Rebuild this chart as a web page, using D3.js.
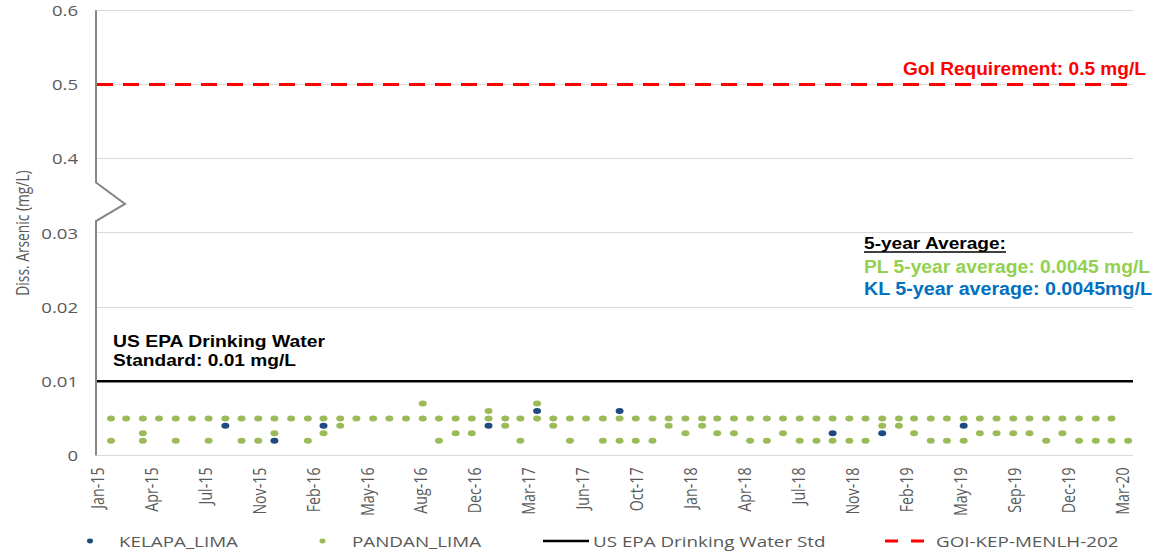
<!DOCTYPE html>
<html>
<head>
<meta charset="utf-8">
<script src="https://cdn.jsdelivr.net/npm/d3@7"></script>
<style>
  body { margin: 0; background: #fff; }
  svg { display: block; }
  .gray { font-family: 'Open Sans', sans-serif; fill: #595959; }
  .bold { font-family: 'Liberation Sans', Arial, sans-serif; font-weight: bold; }
</style>
</head>
<body>
<svg id="chart" width="1175" height="555"></svg>
<script>
// monthly sampling, one entry per month
const sampleMonths = [
  '2015-01','2015-02','2015-03','2015-04','2015-05','2015-06','2015-07','2015-08','2015-09','2015-10','2015-11','2015-12',
  '2016-01','2016-02','2016-03','2016-04','2016-05','2016-06','2016-07','2016-08','2016-09','2016-10','2016-11','2016-12',
  '2017-01','2017-02','2017-03','2017-04','2017-05','2017-06','2017-07','2017-08','2017-09','2017-10','2017-11','2017-12',
  '2018-01','2018-02','2018-03','2018-04','2018-05','2018-06','2018-07','2018-08','2018-09','2018-10','2018-11','2018-12',
  '2019-01','2019-02','2019-03','2019-04','2019-05','2019-06','2019-07','2019-08','2019-09','2019-10','2019-11','2019-12',
  '2020-01','2020-02','2020-03'
];

// PANDAN_LIMA readings per month (mg/L)
const pandanLima = [
  [0.005,0.002],[0.005],[0.005,0.003,0.002],[0.005],[0.005,0.002],[0.005],[0.005,0.002],[0.005],[0.005,0.002],[0.005,0.002],[0.005,0.003],[0.005],
  [0.005,0.002],[0.005,0.003],[0.005,0.004],[0.005],[0.005],[0.005],[0.005],[0.007,0.005],[0.005,0.002],[0.005,0.003],[0.005,0.003],[0.006,0.005],
  [0.005,0.004],[0.005,0.002],[0.007,0.005],[0.005,0.004],[0.005,0.002],[0.005],[0.005,0.002],[0.005,0.002],[0.005,0.002],[0.005,0.002],[0.005,0.004],[0.005,0.003],
  [0.005,0.004],[0.005,0.003],[0.005,0.003],[0.005,0.002],[0.005,0.002],[0.005,0.003],[0.005,0.002],[0.005,0.002],[0.005,0.002],[0.005,0.002],[0.005,0.002],[0.005,0.004],
  [0.005,0.004],[0.005,0.003],[0.005,0.002],[0.005,0.002],[0.005,0.002],[0.005,0.003],[0.005,0.003],[0.005,0.003],[0.005,0.003],[0.005,0.002],[0.005,0.003],[0.005,0.002],
  [0.005,0.002],[0.005,0.002],[0.002]
];

// KELAPA_LIMA readings that show (others sit under the green dots)
const kelapaMonths = ['2015-08','2015-11','2016-02','2016-12','2017-03','2017-08','2018-09','2018-12','2019-05'];
const kelapaValues = [0.004, 0.002, 0.004, 0.004, 0.006, 0.006, 0.003, 0.003, 0.004];

const yTicks = [0, 0.01, 0.02, 0.03, 0.4, 0.5, 0.6];
const yTickLabels = ['0', '0.01', '0.02', '0.03', '0.4', '0.5', '0.6'];
const xTickLabels = ['Jan-15','Apr-15','Jul-15','Nov-15','Feb-16','May-16','Aug-16','Dec-16','Mar-17','Jun-17',
  'Oct-17','Jan-18','Apr-18','Jul-18','Nov-18','Feb-19','May-19','Sep-19','Dec-19','Mar-20'];

const epaStd = 0.01;
const goiReq = 0.5;

const legendNames = ['KELAPA_LIMA', 'PANDAN_LIMA', 'US EPA Drinking Water Std', 'GOI-KEP-MENLH-202'];

const green = '#9bbb59', blue = '#1f4a80';
const SX = 1.28; // the source picture is stretched sideways

const svg = d3.select('#chart');
const left = 97, right = 1133, bottom = 455.5, step = 74.2;

const axisStart = new Date(2015, 0, 5);
const x = d3.scaleTime()
  .domain([axisStart, new Date(2020, 3, 9)])
  .range([left, right]);

const y = d3.scaleLinear()
  .domain([0, 0.03, 0.4, 0.6])
  .range([bottom, bottom - 3 * step, bottom - 4 * step, bottom - 6 * step]);

const parseMonth = d3.timeParse('%Y-%m');
const monthEnd = m => d3.timeDay.offset(d3.timeMonth.offset(parseMonth(m), 1), -1);
const crisp = v => Math.floor(v) + 0.5;

// grid
svg.append('g')
  .selectAll('line')
  .data(yTicks)
  .join('line')
  .attr('x1', left).attr('x2', right)
  .attr('y1', d => crisp(y(d))).attr('y2', d => crisp(y(d)))
  .attr('stroke', '#d9d9d9')
  .attr('stroke-width', 1);

// y axis labels
const yAxis = svg.append('g')
  .attr('transform', `translate(${left},0)`)
  .call(d3.axisLeft(y).tickValues(yTicks).tickFormat((d, i) => yTickLabels[i]).tickSize(0));
yAxis.select('.domain').remove();
yAxis.selectAll('text')
  .attr('class', 'gray')
  .attr('x', null)
  .attr('dy', '0.36em')
  .attr('font-size', 14.5)
  .attr('transform', `translate(-19,0) scale(${SX},1)`);

// y axis line with break
const b = t => y(0.4) + t * (y(0.03) - y(0.4));
svg.append('path')
  .attr('d', d3.line()([[96, y(0.6)], [96, b(0.32)], [125, b(0.61)], [96, b(0.84)], [96, y(0)]]))
  .attr('fill', 'none')
  .attr('stroke', '#868686')
  .attr('stroke-width', 2);

// x axis labels, every 100 days
const xTickDates = xTickLabels.map((d, i) => d3.timeDay.offset(axisStart, 100 * i));
const xAxis = svg.append('g')
  .attr('transform', `translate(0,${bottom})`)
  .call(d3.axisBottom(x).tickValues(xTickDates).tickFormat((d, i) => xTickLabels[i]).tickSize(0));
xAxis.select('.domain').remove();
xAxis.selectAll('text')
  .attr('class', 'gray')
  .attr('y', null)
  .attr('dy', '0.35em')
  .attr('font-size', 14.2)
  .attr('text-anchor', 'end')
  .attr('transform', `translate(0,12) scale(${SX},1) rotate(-90)`);

// y title
svg.append('text')
  .attr('class', 'gray')
  .attr('font-size', 13.8)
  .attr('text-anchor', 'middle')
  .attr('dy', '0.35em')
  .attr('transform', `translate(23,233) scale(${SX},1) rotate(-90)`)
  .text('Diss. Arsenic (mg/L)');

// reference lines
svg.append('line')
  .attr('x1', left).attr('x2', right)
  .attr('y1', y(epaStd)).attr('y2', y(epaStd))
  .attr('stroke', '#000').attr('stroke-width', 2.6);

svg.append('line')
  .attr('x1', left).attr('x2', right)
  .attr('y1', y(goiReq)).attr('y2', y(goiReq))
  .attr('stroke', '#ff0000').attr('stroke-width', 3)
  .attr('stroke-dasharray', '16 10');

// points
const kelapaPts = kelapaMonths.map((m, i) => ({ date: monthEnd(m), value: kelapaValues[i] }));
const pandanPts = sampleMonths.flatMap((m, i) => pandanLima[i].map(v => ({ date: monthEnd(m), value: v })));

svg.append('g')
  .selectAll('ellipse')
  .data(kelapaPts)
  .join('ellipse')
  .attr('cx', d => x(d.date)).attr('cy', d => y(d.value))
  .attr('rx', 4).attr('ry', 3)
  .attr('fill', blue);

svg.append('g')
  .selectAll('ellipse')
  .data(pandanPts)
  .join('ellipse')
  .attr('cx', d => x(d.date)).attr('cy', d => y(d.value))
  .attr('rx', 4).attr('ry', 3)
  .attr('fill', green);

// annotations
const note = (txt, xx, yy, size, len, color) => svg.append('text')
  .attr('class', 'bold')
  .attr('x', xx).attr('y', yy)
  .attr('font-size', size)
  .attr('fill', color)
  .attr('textLength', len)
  .attr('lengthAdjust', 'spacingAndGlyphs')
  .text(txt);

note('GoI Requirement: 0.5 mg/L', 903, 75, 18, 243, '#ff0000');
note('US EPA Drinking Water', 113, 346.5, 16.5, 212, '#000');
note('Standard: 0.01 mg/L', 113, 366, 16.5, 183, '#000');
note('5-year Average:', 864, 249, 17, 142, '#000');
svg.append('line')
  .attr('x1', 864).attr('x2', 1006)
  .attr('y1', 252).attr('y2', 252)
  .attr('stroke', '#000').attr('stroke-width', 1.5);
note('PL 5-year average: 0.0045 mg/L', 864, 273, 18, 286, '#92d050');
note('KL 5-year average: 0.0045mg/L', 864, 294.5, 18, 288, '#0070c0');

// legend
const legendX = [90, 322.5, 543, 885];
const legendTextX = [119, 352, 593, 936];
const ly = 541;
const legend = svg.append('g');
legend.append('ellipse').attr('cx', legendX[0]).attr('cy', ly).attr('rx', 3).attr('ry', 2.4).attr('fill', blue);
legend.append('ellipse').attr('cx', legendX[1]).attr('cy', ly).attr('rx', 3).attr('ry', 2.4).attr('fill', green);
legend.append('line').attr('x1', legendX[2]).attr('x2', legendX[2] + 46).attr('y1', ly).attr('y2', ly)
  .attr('stroke', '#000').attr('stroke-width', 2.6);
legend.append('line').attr('x1', legendX[3]).attr('x2', legendX[3] + 40).attr('y1', ly).attr('y2', ly)
  .attr('stroke', '#ff0000').attr('stroke-width', 3).attr('stroke-dasharray', '13 13');
legend.selectAll('text')
  .data(legendNames)
  .join('text')
  .attr('class', 'gray')
  .attr('font-size', 14.7)
  .attr('transform', (d, i) => `translate(${legendTextX[i]},${ly + 6}) scale(${SX},1)`)
  .text(d => d);
</script>
</body>
</html>
